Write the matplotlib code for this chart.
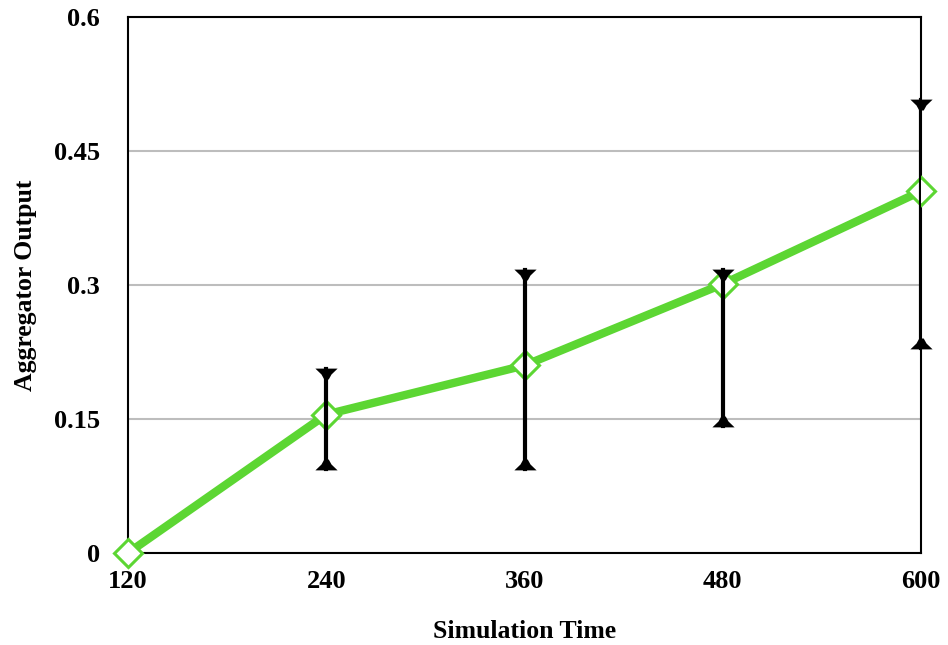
import matplotlib
matplotlib.use('Agg')
import matplotlib.pyplot as plt
import numpy as np

# --- data ---
times = [120, 240, 360, 480, 600]
output = [0.0, 0.155, 0.210, 0.301, 0.405]
err_low = [0.0, 0.094, 0.094, 0.142, 0.229]
err_high = [0.0, 0.206, 0.317, 0.317, 0.507]
y_ticks = [0, 0.15, 0.3, 0.45, 0.6]
y_labels = ['0', '0.15', '0.3', '0.45', '0.6']

GREEN = '#5cd633'
plt.rcParams['font.family'] = ['Liberation Serif', 'DejaVu Serif']
plt.rcParams['font.weight'] = 'bold'

# cap shapes: flat edge at the bar end, tapering inward toward the stem
cap_top = [(-1, 0.08), (1, 0.08), (0.45, -0.45), (0.2, -0.9), (-0.2, -0.9), (-0.45, -0.45)]
cap_bot = [(x, -y) for x, y in cap_top]

fig = plt.figure(figsize=(9.48, 6.45), dpi=100)
ax = fig.add_axes([128 / 948, 1 - 553 / 645, (921 - 128) / 948, (553 - 17) / 645])

# line with hollow diamonds
ax.plot(times, output, '-', color=GREEN, linewidth=6, zorder=3)
ax.plot(times, output, 'D', markersize=14, markerfacecolor='white',
        markeredgecolor=GREEN, markeredgewidth=2.2, zorder=4, clip_on=False)

# error bars (skip the first point, it has none)
for t, lo, hi in zip(times[1:], err_low[1:], err_high[1:]):
    ax.plot([t, t], [lo, hi], color='black', linewidth=3, zorder=5)
    ax.plot(t, hi, marker=cap_top, color='black', markersize=16, markeredgewidth=0,
            zorder=5, clip_on=False)
    ax.plot(t, lo, marker=cap_bot, color='black', markersize=16, markeredgewidth=0,
            zorder=5, clip_on=False)

ax.set_xlim(120, 600)
ax.set_ylim(0, 0.6)
ax.set_xticks(times)
ax.set_xticklabels([str(t) for t in times])
ax.set_yticks(y_ticks)
ax.set_yticklabels(y_labels)
ax.tick_params(length=0, labelsize=19)
ax.tick_params(axis='x', pad=12)
ax.tick_params(axis='y', pad=20)
for lab in ax.get_xticklabels() + ax.get_yticklabels():
    lab.set_fontweight('bold')

ax.grid(axis='y', color='#bdbdbd', linewidth=1.5)
ax.set_axisbelow(True)
for sp in ax.spines.values():
    sp.set_color('black')
    sp.set_linewidth(1.5)

ax.set_xlabel('Simulation Time', fontsize=18.5, fontweight='bold', labelpad=20)
ax.set_ylabel('Aggregator Output', fontsize=18.5, fontweight='bold', labelpad=12)

fig.savefig('out.png', dpi=100)
